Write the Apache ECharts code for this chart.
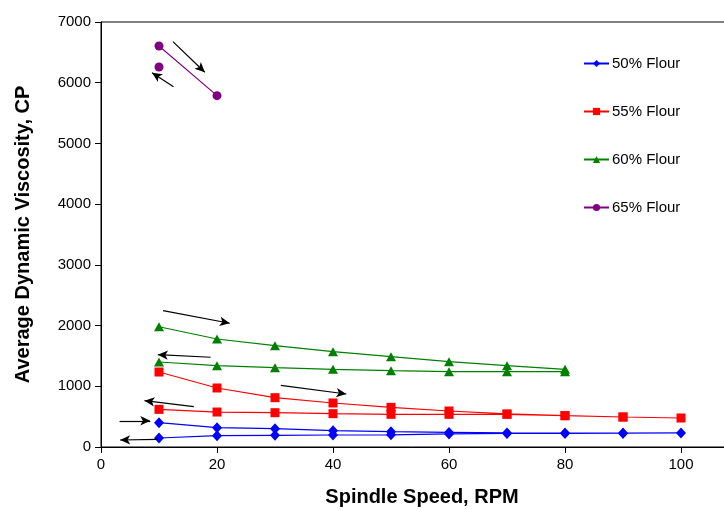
<!DOCTYPE html>
<html>
<head>
<meta charset="utf-8">
<script src="https://cdn.jsdelivr.net/npm/echarts@6/dist/echarts.min.js"></script>
<style>html,body{margin:0;padding:0;background:#fff}#c{width:724px;height:510px}</style>
</head>
<body>
<div id="c"></div>
<script>
// ---- data ----
var seriesNames = ['50% Flour', '55% Flour', '60% Flour', '65% Flour'];
var xTicks = [0, 20, 40, 60, 80, 100];
var yTicks = [0, 1000, 2000, 3000, 4000, 5000, 6000, 7000];

var flour50Speed = [10, 20, 30, 40, 50, 60, 70, 80, 90, 100, 90, 80, 70, 60, 50, 40, 30, 20, 10];
var flour50Visc  = [401, 318, 302, 269, 252, 240, 232, 228, 228, 232, 228, 225, 222, 216, 200, 198, 193, 187, 148];

var flour55Speed = [10, 20, 30, 40, 50, 60, 70, 80, 90, 100, 90, 80, 70, 60, 50, 40, 30, 20, 10];
var flour55Visc  = [1235, 972, 812, 725, 653, 593, 545, 516, 494, 478, 494, 516, 538, 538, 538, 549, 565, 576, 620];

var flour60Speed = [10, 20, 30, 40, 50, 60, 70, 80, 80, 70, 60, 50, 40, 30, 20, 10];
var flour60Visc  = [1981, 1779, 1669, 1570, 1488, 1405, 1340, 1280, 1240, 1240, 1240, 1257, 1280, 1307, 1340, 1400];

var flour65Speed = [10, 20, 20, 10];
var flour65Visc  = [6605, 5787, '-', 6259];

// direction arrows (annotation, data units): [x1, y1, x2, y2]
var arrows = [
  [12.4, 6676, 17.9, 6172],
  [12.5, 5935, 8.8, 6165],
  [10.7, 2245, 22.2, 2038],
  [18.9, 1478, 9.8, 1520],
  [31.0, 1016, 42.3, 873],
  [16.0, 664, 7.5, 763],
  [3.2, 432, 8.5, 432],
  [9.8, 127, 3.3, 115]
];

function pairs(xs, ys) { return xs.map(function (x, i) { return [x, ys[i]]; }); }

var colors = ['#0000FF', '#FF0000', '#008000', '#800080'];
var symbols = ['diamond', 'rect', 'triangle', 'circle'];
var sizes = [[10, 11], 9, [10, 9], 9];
var datas = [pairs(flour50Speed, flour50Visc), pairs(flour55Speed, flour55Visc),
             pairs(flour60Speed, flour60Visc), pairs(flour65Speed, flour65Visc)];

var font = "'Liberation Sans', Arial, sans-serif";

var series = seriesNames.map(function (n, i) {
  return {
    name: n, type: 'line', data: datas[i],
    symbol: symbols[i], symbolSize: sizes[i],
    itemStyle: { color: colors[i] },
    lineStyle: { color: colors[i], width: 1.2 },
    connectNulls: false, animation: false
  };
});

series.push({
  name: 'arrows', type: 'line', data: [], animation: false,
  markLine: {
    silent: true, animation: false,
    symbol: ['none', 'arrow'], symbolSize: [7, 10],
    label: { show: false },
    lineStyle: { color: '#000', width: 1.2, type: 'solid' },
    emphasis: { disabled: true },
    data: arrows.map(function (a) { return [{ coord: [a[0], a[1]] }, { coord: [a[2], a[3]] }]; })
  }
});

var chart = echarts.init(document.getElementById('c'));
chart.setOption({
  backgroundColor: '#fff',
  animation: false,
  grid: { left: 101, top: 22, right: -73, bottom: 63, outerBoundsMode: 'none', containLabel: false,
          show: true, borderColor: '#000', borderWidth: 1, backgroundColor: 'transparent' },
  legend: {
    data: seriesNames, orient: 'vertical', left: 583, top: 56, padding: 0,
    itemWidth: 25, itemHeight: 9, itemGap: 33,
    textStyle: { fontFamily: font, fontSize: 15, color: '#000', padding: [0, 0, 0, -2] }
  },
  xAxis: {
    type: 'value', min: 0, max: 120, interval: 20,
    name: 'Spindle Speed, RPM', nameLocation: 'middle', nameGap: 40,
    nameTextStyle: { fontFamily: font, fontSize: 20, fontWeight: 'bold', color: '#000', padding: [0, 54, 0, 0] },
    axisLine: { lineStyle: { color: '#000', width: 1 } },
    axisTick: { show: true, length: 6, lineStyle: { color: '#000' } },
    axisLabel: { fontFamily: font, fontSize: 15, color: '#000', margin: 10,
      formatter: function (v) { return xTicks.indexOf(v) >= 0 ? String(v) : ''; } },
    splitLine: { show: false }
  },
  yAxis: {
    type: 'value', min: 0, max: 7000, interval: 1000,
    name: 'Average Dynamic Viscosity, CP', nameLocation: 'middle', nameGap: 68, nameRotate: 90,
    nameTextStyle: { fontFamily: font, fontSize: 20, fontWeight: 'bold', color: '#000' },
    axisLine: { show: true, lineStyle: { color: '#000', width: 1 } },
    axisTick: { show: true, length: 6, lineStyle: { color: '#000' } },
    axisLabel: { fontFamily: font, fontSize: 15, color: '#000', margin: 10,
      formatter: function (v) { return yTicks.indexOf(v) >= 0 ? String(v) : ''; } },
    splitLine: { show: false }
  },
  series: series
});
</script>
</body>
</html>
